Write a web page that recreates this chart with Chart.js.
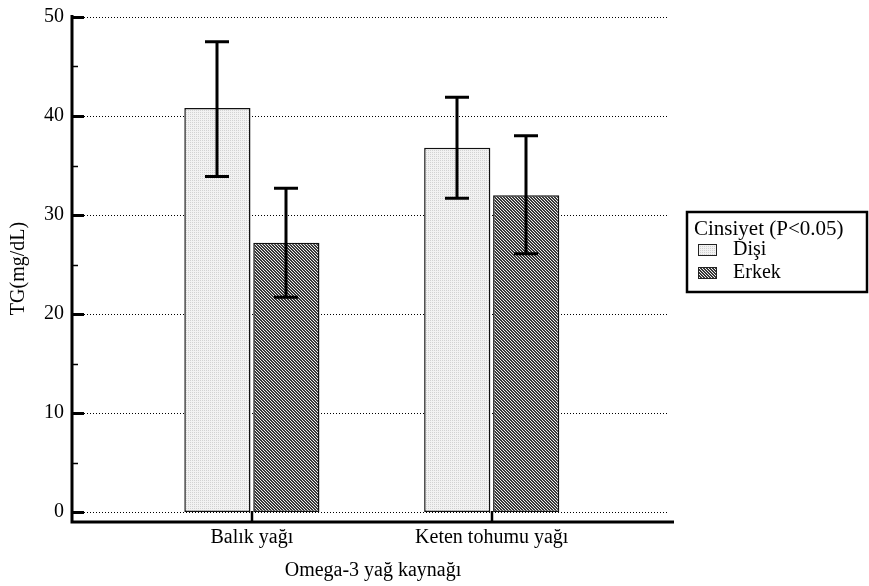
<!DOCTYPE html>
<html>
<head>
<meta charset="utf-8">
<script src="https://cdn.jsdelivr.net/npm/chart.js@4/dist/chart.umd.min.js"></script>
<style>
  html, body { margin: 0; padding: 0; background: #fff; }
  #wrap { width: 869px; height: 586px; }
</style>
</head>
<body>
<div id="wrap"><canvas id="c" width="869" height="586"></canvas></div>
<script>
// ---- data ----
const categories = ['Balık yağı', 'Keten tohumu yağı'];
const seriesNames = ['Dişi', 'Erkek'];
const disiValues = [40.8, 36.8];
const erkekValues = [27.2, 32.0];
const disiErrLow = [33.9, 31.7];
const disiErrHigh = [47.5, 41.9];
const erkekErrLow = [21.7, 26.1];
const erkekErrHigh = [32.7, 38.0];
const yTickValues = [0, 10, 20, 30, 40, 50];
const yMinorTickValues = [5, 15, 25, 35, 45];
const xTitle = 'Omega-3 yağ kaynağı';
const yTitle = 'TG(mg/dL)';
const legendTitle = 'Cinsiyet (P<0.05)';

// ---- patterns ----
function makePattern(kind) {
  const size = kind === 'light' ? 2 : 3;
  const cv = document.createElement('canvas');
  cv.width = size; cv.height = size;
  const g = cv.getContext('2d');
  for (let y = 0; y < size; y++) {
    for (let x = 0; x < size; x++) {
      let col;
      if (kind === 'light') {
        col = ((x % 2 === 0) && (y % 2 === 0)) ? '#d2d2d2' : '#f2f2f2';
      } else {
        col = (((x - y) % 3 + 3) % 3 < 2) ? '#383838' : '#efefef';
      }
      g.fillStyle = col;
      g.fillRect(x, y, 1, 1);
    }
  }
  return g.createPattern(cv, 'repeat');
}
const disiFill = makePattern('light');
const erkekFill = makePattern('dark');

const FONT = "'Liberation Serif', 'Times New Roman', serif";
Chart.defaults.font.family = FONT;
Chart.defaults.font.size = 20;
Chart.defaults.color = '#000';

const errLows = [disiErrLow, erkekErrLow];
const errHighs = [disiErrHigh, erkekErrHigh];

const decoPlugin = {
  id: 'deco',
  beforeDatasetsDraw(chart) {
    const ctx = chart.ctx, ca = chart.chartArea, ys = chart.scales.y;
    ctx.save();
    ctx.strokeStyle = '#000';
    ctx.lineWidth = 1;
    ctx.setLineDash([1, 2]);
    yTickValues.forEach(v => {
      const y = Math.round(ys.getPixelForValue(v)) + 0.5;
      ctx.beginPath();
      ctx.moveTo(ca.left + 12, y);
      ctx.lineTo(ca.right - 6, y);
      ctx.stroke();
    });
    ctx.restore();
  },
  afterDatasetsDraw(chart) {
    const ctx = chart.ctx, ca = chart.chartArea, ys = chart.scales.y, xs = chart.scales.x;
    ctx.save();
    ctx.strokeStyle = '#000';
    ctx.setLineDash([]);
    // error bars
    chart.data.datasets.forEach((ds, di) => {
      const meta = chart.getDatasetMeta(di);
      meta.data.forEach((bar, i) => {
        const x = Math.round(bar.x);
        const yl = ys.getPixelForValue(errLows[di][i]);
        const yh = ys.getPixelForValue(errHighs[di][i]);
        ctx.lineWidth = 3;
        ctx.beginPath();
        ctx.moveTo(x, yl); ctx.lineTo(x, yh);
        ctx.moveTo(x - 12, yl); ctx.lineTo(x + 12, yl);
        ctx.moveTo(x - 12, yh); ctx.lineTo(x + 12, yh);
        ctx.stroke();
      });
    });
    // axis lines
    ctx.lineWidth = 3;
    ctx.beginPath();
    ctx.moveTo(ca.left, ca.top);
    ctx.lineTo(ca.left, ca.bottom + 1.5);
    ctx.moveTo(ca.left - 1.5, ca.bottom);
    ctx.lineTo(ca.right, ca.bottom);
    ctx.stroke();
    // y major ticks
    yTickValues.forEach(v => {
      const y = Math.round(ys.getPixelForValue(v)) + 0.5;
      ctx.lineWidth = 3;
      ctx.beginPath();
      ctx.moveTo(ca.left, y); ctx.lineTo(ca.left + 12, y);
      ctx.stroke();
    });
    // y minor ticks
    yMinorTickValues.forEach(v => {
      const y = Math.round(ys.getPixelForValue(v)) + 0.5;
      ctx.lineWidth = 1.5;
      ctx.beginPath();
      ctx.moveTo(ca.left, y); ctx.lineTo(ca.left + 6, y);
      ctx.stroke();
    });
    // x ticks
    categories.forEach((c, i) => {
      const x = Math.round(xs.getPixelForValue(i + 1));
      ctx.lineWidth = 2.5;
      ctx.beginPath();
      ctx.moveTo(x, ca.bottom); ctx.lineTo(x, ca.bottom - 11);
      ctx.stroke();
    });
    ctx.restore();
  },
  afterDraw(chart) {
    const ctx = chart.ctx;
    ctx.save();
    // legend box
    ctx.strokeStyle = '#000';
    ctx.lineWidth = 2.5;
    ctx.strokeRect(687, 212, 180, 80);
    ctx.fillStyle = '#000';
    ctx.textBaseline = 'middle';
    ctx.textAlign = 'left';
    ctx.font = '21px ' + FONT;
    ctx.fillText(legendTitle, 694, 229);
    ctx.font = '20px ' + FONT;
    const ys = [250, 273];
    chart.data.datasets.forEach((ds, di) => {
      const cy = ys[di];
      ctx.fillStyle = ds.backgroundColor;
      ctx.fillRect(698, cy - 6, 19, 12);
      ctx.lineWidth = 1;
      ctx.strokeStyle = '#222';
      ctx.strokeRect(698.5, cy - 5.5, 18, 11);
      ctx.fillStyle = '#000';
      ctx.fillText(ds.label, 733, cy);
    });
    ctx.restore();
  }
};

new Chart(document.getElementById('c'), {
  type: 'bar',
  data: {
    datasets: [
      {
        label: seriesNames[0],
        data: disiValues.map((v, i) => ({ x: i + 1, y: v })),
        backgroundColor: disiFill,
        borderColor: '#111',
        borderWidth: 1.5,
        borderSkipped: false
      },
      {
        label: seriesNames[1],
        data: erkekValues.map((v, i) => ({ x: i + 1, y: v })),
        backgroundColor: erkekFill,
        borderColor: '#111',
        borderWidth: 1.5,
        borderSkipped: false
      }
    ]
  },
  options: {
    responsive: false,
    animation: false,
    devicePixelRatio: 1,
    categoryPercentage: 0.575,
    barPercentage: 0.96,
    layout: { padding: { top: 15, right: 195, left: 0, bottom: 0 } },
    plugins: { legend: { display: false }, tooltip: { enabled: false } },
    scales: {
      x: {
        type: 'linear',
        offset: false,
        min: 0.25,
        max: 2.76,
        afterBuildTicks: s => { s.ticks = categories.map((c, i) => ({ value: i + 1 })); },
        afterFit: s => { s.height = 64; s.paddingLeft = 0; s.paddingRight = 0; },
        ticks: {
          autoSkip: false,
          maxRotation: 0,
          padding: 4,
          callback: v => categories[Math.round(v) - 1]
        },
        grid: { display: false, drawTicks: false, offset: false },
        border: { display: false },
        title: { display: true, text: xTitle, padding: { top: 0, bottom: 3 } }
      },
      y: {
        min: -1,
        max: 50.2,
        afterBuildTicks: s => { s.ticks = yTickValues.map(v => ({ value: v })); },
        afterFit: s => { s.width = 72; s.paddingTop = 0; s.paddingBottom = 0; },
        ticks: { padding: 8 },
        grid: { display: false, drawTicks: false },
        border: { display: false },
        title: { display: true, text: yTitle, padding: { top: 7, bottom: 0 } }
      }
    }
  },
  plugins: [decoPlugin]
});
</script>
</body>
</html>
